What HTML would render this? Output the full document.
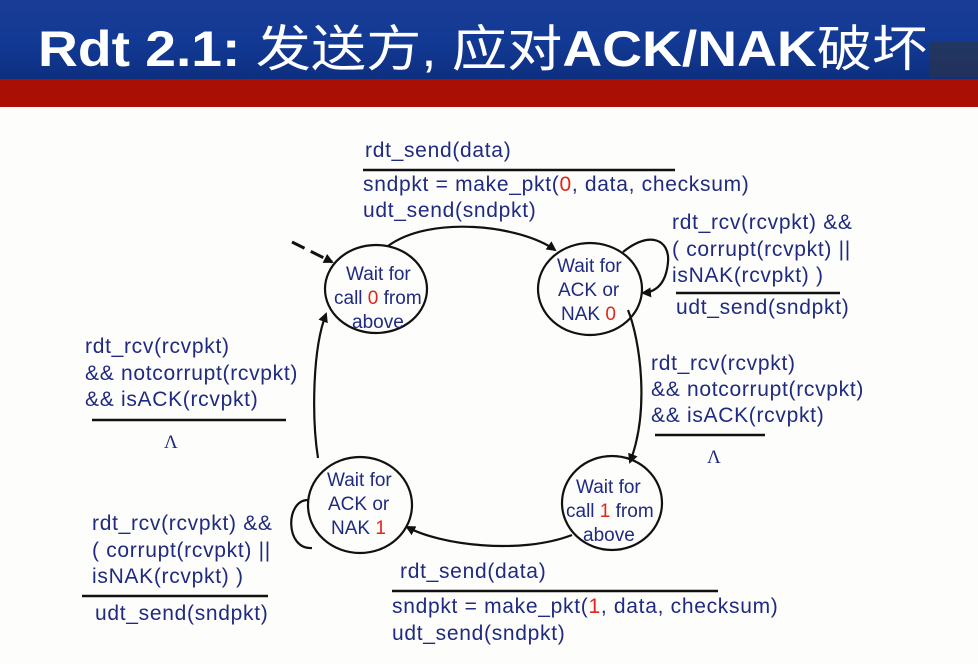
<!DOCTYPE html>
<html><head><meta charset="utf-8"><style>
body{margin:0;width:978px;height:664px;overflow:hidden;background:#fdfdfb;}
svg{display:block}
text{font-family:"Liberation Sans",Arial,sans-serif;fill:#1f2a80;font-size:19px}
.l{font-size:21px;letter-spacing:0.7px}
.r{fill:#e0261c}
</style></head><body>
<svg width="978" height="664" viewBox="0 0 978 664">
<defs>
<linearGradient id="bg" x1="0" y1="0" x2="0" y2="1">
<stop offset="0" stop-color="#1a3c95"/><stop offset="0.5" stop-color="#123a95"/><stop offset="1" stop-color="#0e2f80"/>
</linearGradient>
<marker id="a" markerWidth="10" markerHeight="10" refX="8" refY="5" orient="auto" markerUnits="userSpaceOnUse">
<path d="M0,0 L10,5 L0,10 Z" fill="#111"/></marker>
</defs>
<rect x="0" y="0" width="978" height="79" fill="url(#bg)"/>
<rect x="0" y="79" width="978" height="28" fill="#a90f05"/>
<text transform="translate(38,66) scale(1.2,1.08)" x="0" y="0" style="font-size:46px;font-weight:bold;fill:#fff;font-family:'Liberation Sans','Noto Sans CJK SC',sans-serif">Rdt 2.1: <tspan style="font-weight:normal">发送方, 应对</tspan>ACK/NAK<tspan style="font-weight:normal">破坏</tspan></text>
<rect x="930" y="42" width="48" height="36" fill="#333" opacity="0.5"/>

<g fill="none" stroke="#111" stroke-width="2.2">
<ellipse cx="376" cy="289" rx="51" ry="44"/>
<ellipse cx="590" cy="289" rx="52" ry="46"/>
<ellipse cx="612" cy="503" rx="50" ry="47"/>
<ellipse cx="360" cy="505" rx="52" ry="48"/>
<path d="M388,246 C430,215 520,225 555,250" marker-end="url(#a)"/>
<path d="M292,242 L332,262" stroke-dasharray="14,7" stroke-width="3" marker-end="url(#a)"/>
<path d="M623,252 C650,230 670,240 668,262 C666,285 655,292 643,293" marker-end="url(#a)"/>
<path d="M628,310 C640,340 650,410 630,462" marker-end="url(#a)"/>
<path d="M572,535 C520,555 440,545 407,527" marker-end="url(#a)"/>
<path d="M318,458 C312,420 312,350 326,314" marker-end="url(#a)"/>
<path d="M308,500 C285,500 285,550 312,548"/>
</g>

<text x="346" y="280">Wait for</text>
<text x="334" y="304">call <tspan class="r">0</tspan> from</text>
<text x="352" y="328">above</text>
<text x="557" y="272">Wait for</text>
<text x="558" y="296">ACK or</text>
<text x="561" y="320">NAK <tspan class="r">0</tspan></text>
<text x="576" y="493">Wait for</text>
<text x="566" y="517">call <tspan class="r">1</tspan> from</text>
<text x="583" y="541">above</text>
<text x="327" y="486">Wait for</text>
<text x="328" y="510">ACK or</text>
<text x="331" y="534">NAK <tspan class="r">1</tspan></text>

<text class="l" x="365" y="157">rdt_send(data)</text>
<text class="l" x="363" y="191">sndpkt = make_pkt(<tspan class="r">0</tspan>, data, checksum)</text>
<text class="l" x="363" y="217">udt_send(sndpkt)</text>
<text class="l" x="672" y="229">rdt_rcv(rcvpkt) &amp;&amp;</text>
<text class="l" x="672" y="256">( corrupt(rcvpkt) ||</text>
<text class="l" x="672" y="282">isNAK(rcvpkt) )</text>
<text class="l" x="676" y="314">udt_send(sndpkt)</text>
<text class="l" x="651" y="370">rdt_rcv(rcvpkt)</text>
<text class="l" x="651" y="396">&amp;&amp; notcorrupt(rcvpkt)</text>
<text class="l" x="651" y="422">&amp;&amp; isACK(rcvpkt)</text>
<text class="l" x="85" y="353">rdt_rcv(rcvpkt)</text>
<text class="l" x="85" y="380">&amp;&amp; notcorrupt(rcvpkt)</text>
<text class="l" x="85" y="406">&amp;&amp; isACK(rcvpkt)</text>
<text class="l" x="92" y="530">rdt_rcv(rcvpkt) &amp;&amp;</text>
<text class="l" x="92" y="557">( corrupt(rcvpkt) ||</text>
<text class="l" x="92" y="583">isNAK(rcvpkt) )</text>
<text class="l" x="95" y="620">udt_send(sndpkt)</text>
<text class="l" x="400" y="578">rdt_send(data)</text>
<text class="l" x="392" y="613">sndpkt = make_pkt(<tspan class="r">1</tspan>, data, checksum)</text>
<text class="l" x="392" y="640">udt_send(sndpkt)</text>

<line x1="363" y1="170" x2="675" y2="170" stroke="#111" stroke-width="2.5"/>
<line x1="676" y1="293" x2="840" y2="293" stroke="#111" stroke-width="2.5"/>
<line x1="655" y1="435" x2="765" y2="435" stroke="#111" stroke-width="2.5"/>
<text x="707" y="463" style="font-family:'Liberation Serif',serif">Λ</text>
<line x1="92" y1="420" x2="286" y2="420" stroke="#111" stroke-width="2.5"/>
<text x="164" y="448" style="font-family:'Liberation Serif',serif">Λ</text>
<line x1="82" y1="596" x2="268" y2="596" stroke="#111" stroke-width="2.5"/>
<line x1="392" y1="591" x2="718" y2="591" stroke="#111" stroke-width="2.5"/>
</svg>
</body></html>
